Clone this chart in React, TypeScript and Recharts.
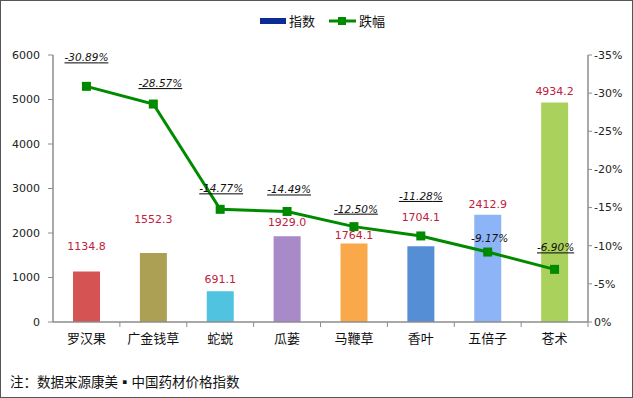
import React from "react";
import {
  Bar,
  Cell,
  ComposedChart,
  LabelList,
  Line,
  XAxis,
  YAxis,
} from "recharts";

const herbs = ["罗汉果", "广金钱草", "蛇蜕", "瓜蒌", "马鞭草", "香叶", "五倍子", "苍术"];
const indexValues = [1134.8, 1552.3, 691.1, 1929.0, 1764.1, 1704.1, 2412.9, 4934.2];
const dropValues = [-30.89, -28.57, -14.77, -14.49, -12.5, -11.28, -9.17, -6.9];
const leftTicks = [0, 1000, 2000, 3000, 4000, 5000, 6000];
const rightTicks = [-35, -30, -25, -20, -15, -10, -5, 0];

const barColors = ["#d65353", "#aca055", "#4fc3e0", "#a88ac8", "#f9a84a", "#558ed5", "#8eb4f8", "#a9d15c"];
// hand placed labels in the original, offsets above bar top / point
const barLabelLift = [26, 34, 12, 14, 8, 29, 11, 11];
const dropLabelLift = [29, 21, 21, 22, 18, 40, 14, 22];
const dropLabelShift = [0, 7, 1, 2, 2, 0, 2, 1];

const data = herbs.map((name, i) => ({
  name,
  index: indexValues[i],
  drop: dropValues[i],
}));

const numFont = "'DejaVu Sans', Verdana, sans-serif";
const cjkFont = "'Noto Sans CJK SC', 'Noto Sans', sans-serif";
const axisGray = "#8c8c8c";
const bandHalf = 535 / 8 / 2;

const CategoryTick = (props: any) => {
  const { x, y, payload } = props;
  return (
    <g>
      <line x1={x + bandHalf} x2={x + bandHalf} y1={y - 8} y2={y - 3} stroke={axisGray} />
      <text x={x} y={y + 13} textAnchor="middle" fontFamily={cjkFont} fontSize={13} fill="#111">
        {payload.value}
      </text>
    </g>
  );
};

const BarValueLabel = (props: any) => {
  const { x, y, width, value, index } = props;
  return (
    <text
      x={x + width / 2}
      y={y - barLabelLift[index]}
      dy={4}
      textAnchor="middle"
      fontFamily={numFont}
      fontSize={11}
      fill="#c0203c"
    >
      {value.toFixed(1)}
    </text>
  );
};

const DropLabel = (props: any) => {
  const { x, y, value, index } = props;
  return (
    <text
      x={x + dropLabelShift[index]}
      y={y - dropLabelLift[index]}
      dy={4}
      textAnchor="middle"
      fontFamily={numFont}
      fontSize={10.5}
      fontStyle="italic"
      textDecoration={index === 6 ? "none" : "underline"}
      fill="#111"
    >
      {value.toFixed(2)}%
    </text>
  );
};

const SquareDot = (props: any) => {
  const { cx, cy } = props;
  return <rect x={cx - 4.5} y={cy - 4.5} width={9} height={9} fill="#008a00" />;
};

const ChartLegend = () => (
  <div
    style={{
      position: "absolute",
      top: 10,
      left: 0,
      width: 633,
      display: "flex",
      justifyContent: "center",
      alignItems: "center",
      fontFamily: cjkFont,
      fontSize: 13,
      color: "#111",
      paddingLeft: 10,
      boxSizing: "border-box",
    }}
  >
    <span style={{ display: "inline-block", width: 26, height: 6, background: "#0b2c95", marginRight: 3 }} />
    <span style={{ marginRight: 14 }}>指数</span>
    <svg width={27} height={10} style={{ marginRight: 3 }}>
      <line x1={0} x2={27} y1={5} y2={5} stroke="#008a00" strokeWidth={3} />
      <rect x={9} y={1} width={8} height={8} fill="#008a00" />
    </svg>
    <span>跌幅</span>
  </div>
);

export default function App() {
  return (
    <div
      style={{
        position: "relative",
        width: 633,
        height: 398,
        border: "1px solid #555",
        boxSizing: "border-box",
        background: "#fff",
      }}
    >
      <style>{`body{margin:0}`}</style>
      <div style={{ position: "absolute", left: -1, top: -1 }}>
        <ComposedChart
          width={633}
          height={398}
          data={data}
          margin={{ top: 55, right: 5, bottom: 46, left: 8 }}
        >
          <XAxis
            dataKey="name"
            height={30}
            tick={<CategoryTick />}
            tickLine={false}
            axisLine={{ stroke: axisGray, strokeWidth: 1.5 }}
            interval={0}
          />
          <YAxis
            yAxisId="left"
            width={45}
            domain={[0, 6000]}
            ticks={leftTicks}
            tickSize={5}
            tickMargin={8}
            tick={{ fontFamily: numFont, fontSize: 11, fill: "#222" }}
            axisLine={{ stroke: axisGray, strokeWidth: 1.5 }}
            tickLine={{ stroke: axisGray }}
          />
          <YAxis
            yAxisId="right"
            orientation="right"
            width={40}
            domain={[-35, 0]}
            reversed
            ticks={rightTicks}
            tickSize={4}
            tickFormatter={(v: number) => `${v}%`}
            tick={{ fontFamily: numFont, fontSize: 11, fill: "#222" }}
            axisLine={{ stroke: axisGray, strokeWidth: 1.5 }}
            tickLine={{ stroke: axisGray }}
          />
          <Bar yAxisId="left" dataKey="index" name="指数" barSize={27} isAnimationActive={false}>
            {data.map((d, i) => (
              <Cell key={d.name} fill={barColors[i]} />
            ))}
            <LabelList dataKey="index" content={<BarValueLabel />} />
          </Bar>
          <Line
            yAxisId="right"
            dataKey="drop"
            name="跌幅"
            stroke="#008a00"
            strokeWidth={3}
            dot={<SquareDot />}
            activeDot={false}
            isAnimationActive={false}
          >
            <LabelList dataKey="drop" content={<DropLabel />} />
          </Line>
        </ComposedChart>
      </div>
      <ChartLegend />
      <div
        style={{
          position: "absolute",
          left: 9,
          top: 370,
          fontFamily: cjkFont,
          fontSize: 13.5,
          color: "#111",
        }}
      >
        注：数据来源康美▪中国药材价格指数
      </div>
    </div>
  );
}
